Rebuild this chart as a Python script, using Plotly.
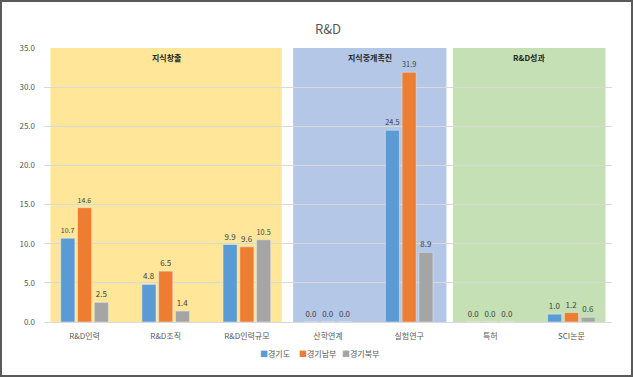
import plotly.graph_objects as go

categories = ["R&D인력", "R&D조직", "R&D인력규모", "산학연계", "실험연구", "특허", "SCI논문"]
series_names = ["경기도", "경기남부", "경기북부"]
gyeonggi = [10.7, 4.8, 9.9, 0.0, 24.5, 0.0, 1.0]
south = [14.6, 6.5, 9.6, 0.0, 31.9, 0.0, 1.2]
north = [2.5, 1.4, 10.5, 0.0, 8.9, 0.0, 0.6]
colors = ["#5B9BD5", "#ED7D31", "#A5A5A5"]

groups = ["지식창출", "지식중개촉진", "R&D성과"]
group_spans = [(-0.42, 2.43), (2.57, 4.46), (4.54, 6.42)]
group_colors = ["#FFE699", "#B4C7E7", "#C5E0B4"]

FONT = "Noto Sans CJK KR"
W, H = 633, 378
L, R, T, B = 44, 21, 48, 56
PW, PH = W - L - R, H - T - B
LEGEND_X = [258, 297, 340]


def px2paper_x(px):
    return (px - L) / PW


def px2paper_y(py):
    return (H - B - py) / PH


fig = go.Figure()
for name, vals, col in zip(series_names, [gyeonggi, south, north], colors):
    fig.add_trace(go.Bar(
        x=categories, y=vals, name=name, marker_color=col,
        texttemplate="%{y:.1f}", textposition="outside",
        textfont=dict(size=8, color="#404040", family=FONT),
        cliponaxis=False, showlegend=False,
    ))

shapes = []
annotations = []
for g, (x0, x1), c in zip(groups, group_spans, group_colors):
    shapes.append(dict(type="rect", xref="x", yref="y", x0=x0, x1=x1, y0=0, y1=35,
                       fillcolor=c, line=dict(width=0), layer="below"))
    annotations.append(dict(text="<b>" + g + "</b>", xref="x", yref="paper",
                            x=(x0 + x1) / 2, y=px2paper_y(57), showarrow=False,
                            font=dict(size=8, color="#262626", family=FONT),
                            xanchor="center", yanchor="middle"))

# legend built as text items
for name, col, lx in zip(series_names, colors, LEGEND_X):
    annotations.append(dict(text='<span style="color:%s">■</span>%s' % (col, name),
                            xref="paper", yref="paper",
                            x=px2paper_x(lx), y=px2paper_y(353), showarrow=False,
                            xanchor="left", yanchor="middle",
                            font=dict(size=8, color="#595959", family=FONT)))

# outer frame
shapes.append(dict(type="rect", xref="paper", yref="paper",
                   x0=px2paper_x(1), x1=px2paper_x(632), y0=px2paper_y(1), y1=px2paper_y(376),
                   line=dict(color="#5a5a5a", width=2), fillcolor="rgba(0,0,0,0)", layer="above"))

fig.update_layout(
    width=W, height=H,
    margin=dict(l=L, r=R, t=T, b=B),
    paper_bgcolor="white", plot_bgcolor="white",
    font=dict(family=FONT, color="#595959"),
    title=dict(text="R&D", x=0.5, xref="paper", xanchor="center",
               y=1 - 29 / H, yanchor="middle",
               font=dict(size=13, color="#595959", family=FONT)),
    barmode="group", bargap=0.38, bargroupgap=0.16,
    showlegend=False,
    shapes=shapes, annotations=annotations,
)
fig.update_yaxes(range=[0, 35], dtick=5, tickformat=".1f", showgrid=True,
                 gridcolor="#D9D9D9", gridwidth=1, zeroline=False,
                 tickfont=dict(size=8, color="#595959", family=FONT),
                 ticklabelstandoff=8, fixedrange=True)
fig.update_xaxes(showline=True, linecolor="#D9D9D9", linewidth=1,
                 tickfont=dict(size=8, color="#595959", family=FONT),
                 ticklabelstandoff=6, fixedrange=True)

fig.write_html("out.html", config={"displayModeBar": False},
               post_script="document.body.style.margin='0';document.body.style.overflow='hidden';")
